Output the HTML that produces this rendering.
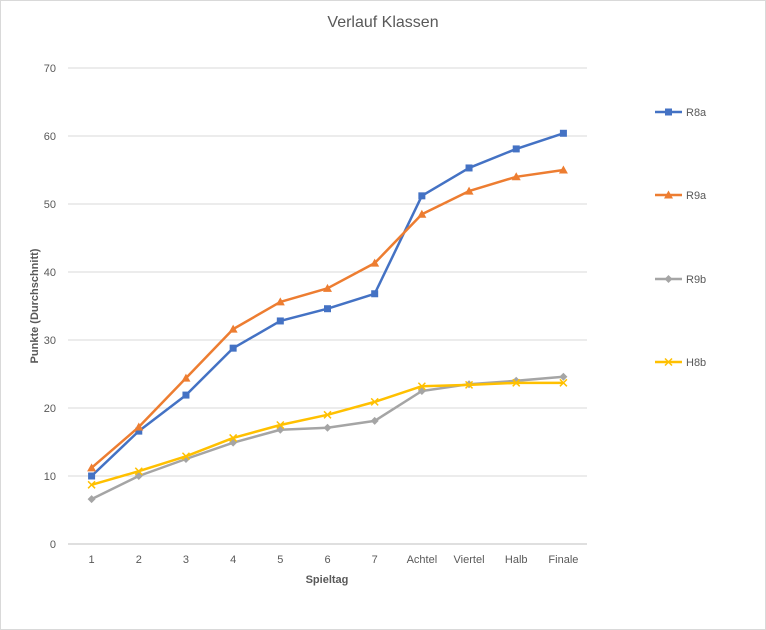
<!DOCTYPE html>
<html><head><meta charset="utf-8"><style>
body{margin:0;background:#fff;}
svg{display:block;font-family:"Liberation Sans",Arial,sans-serif;}
</style></head><body>
<svg id="chart" width="766" height="630">
<rect x="0.5" y="0.5" width="765" height="629" fill="#fff" stroke="#d9d9d9"/>
<text x="383" y="27" text-anchor="middle" font-size="16" fill="#595959">Verlauf Klassen</text>
<g id="grid"></g><g id="series"></g><g id="legend"></g>
<text transform="translate(38,306) rotate(-90)" text-anchor="middle" font-size="11" font-weight="bold" fill="#595959">Punkte (Durchschnitt)</text>
<text x="327" y="583" text-anchor="middle" font-size="11" font-weight="bold" fill="#595959">Spieltag</text>
</svg>
<script>
const categories=["1","2","3","4","5","6","7","Achtel","Viertel","Halb","Finale"];
const yTicks=[0,10,20,30,40,50,60,70];
const seriesNames=["R8a","R9a","R9b","H8b"];
const r8a=[10.0,16.6,21.9,28.8,32.8,34.6,36.8,51.2,55.3,58.1,60.4];
const r9a=[11.2,17.2,24.4,31.6,35.6,37.6,41.3,48.5,51.9,54.0,55.0];
const r9b=[6.6,10.0,12.5,14.9,16.8,17.1,18.1,22.5,23.5,24.0,24.6];
const h8b=[8.7,10.7,12.9,15.6,17.5,19.0,20.9,23.2,23.4,23.7,23.7];
const allSeries=[r8a,r9a,r9b,h8b];
const colors=["#4472c4","#ed7d31","#a5a5a5","#ffc000"];
const markers=["square","triangle","diamond","x"];
const NS="http://www.w3.org/2000/svg";
const x0=68,x1=587,yb=544,yt=68;
const step=(x1-x0)/categories.length;
const xs=i=>x0+step*(i+0.5);
const ys=v=>yb-(v/70)*(yb-yt);
function mk(tag,attrs,parent){const e=document.createElementNS(NS,tag);for(const k in attrs)e.setAttribute(k,attrs[k]);parent.appendChild(e);return e;}
const grid=document.getElementById('grid');
yTicks.forEach(t=>{
 const l=mk('line',{x1:x0,x2:x1,y1:ys(t),y2:ys(t),stroke:t===0?'#bfbfbf':'#d9d9d9','stroke-width':1},grid);
 
 
 const tx=mk('text',{x:56,y:ys(t)+4,'text-anchor':'end','font-size':11,fill:'#595959'},grid);
 tx.textContent=t;
 
 
});
categories.forEach((c,i)=>{
 const tx=mk('text',{x:xs(i),y:563,'text-anchor':'middle','font-size':11,fill:'#595959'},grid);
 tx.textContent=c;
 
 
});
function marker(g,type,x,y,color){
 let e;
 if(type==='square')e=mk('rect',{x:x-3.5,y:y-3.5,width:7,height:7,fill:color},g);
 else if(type==='triangle')e=mk('path',{d:`M${x},${y-4.5}L${x+4.5},${y+3.5}L${x-4.5},${y+3.5}Z`,fill:color},g);
 else if(type==='diamond')e=mk('path',{d:`M${x},${y-4}L${x+4},${y}L${x},${y+4}L${x-4},${y}Z`,fill:color},g);
 else e=mk('path',{d:`M${x-3.5},${y-3.5}L${x+3.5},${y+3.5}M${x+3.5},${y-3.5}L${x-3.5},${y+3.5}`,stroke:color,'stroke-width':1.5,fill:'none'},g);
 
 
}
const sg=document.getElementById('series');
allSeries.forEach((vals,si)=>{
 const g=mk('g',{},sg);
 
 
 const p=mk('polyline',{points:vals.map((v,i)=>xs(i)+','+ys(v)).join(' '),fill:'none',stroke:colors[si],'stroke-width':2.5,'stroke-linejoin':'round'},g);
 
 
 vals.forEach((v,i)=>marker(g,markers[si],xs(i),ys(v),colors[si]));
});
const lg=document.getElementById('legend');
const ly=[112,195,279,362];
seriesNames.forEach((n,i)=>{
 const g=mk('g',{},lg);
 
 
 mk('line',{x1:655,x2:682,y1:ly[i],y2:ly[i],stroke:colors[i],'stroke-width':2.5},g);
 marker(g,markers[i],668.5,ly[i],colors[i]);
 const t=mk('text',{x:686,y:ly[i]+4,'font-size':11,fill:'#595959'},g);
 t.textContent=n;
});
</script>
</body></html>
